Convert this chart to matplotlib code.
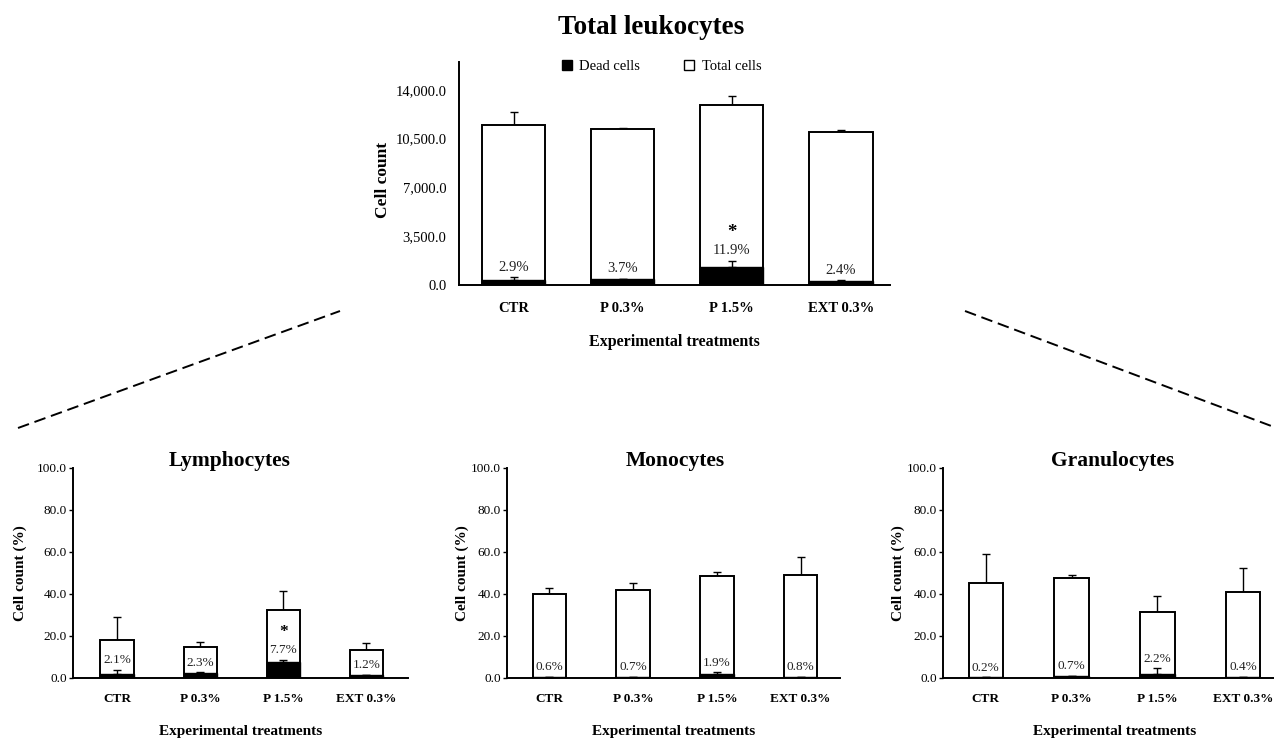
import matplotlib
matplotlib.use('Agg')
import matplotlib.pyplot as plt
import matplotlib.ticker as plticker
from matplotlib.lines import Line2D
from matplotlib.patches import Patch

plt.rcParams['font.family'] = ['Liberation Serif', 'DejaVu Serif']

treatments = ['CTR', 'P 0.3%', 'P 1.5%', 'EXT 0.3%']

# Total leukocytes (cell count)
leuk_total = [11480, 11200, 12920, 10980]
leuk_total_err = [930, 80, 650, 150]
leuk_dead = [350, 410, 1300, 300]
leuk_dead_err = [220, 40, 430, 30]
leuk_pct = ['2.9%', '3.7%', '11.9%', '2.4%']
leuk_sig = [False, False, True, False]

# Lymphocytes (%)
lymph_total = [18.0, 14.4, 32.0, 13.0]
lymph_total_err = [10.8, 2.5, 9.3, 3.4]
lymph_dead = [1.8, 2.1, 7.5, 1.0]
lymph_dead_err = [2.0, 0.3, 1.0, 0.4]
lymph_pct = ['2.1%', '2.3%', '7.7%', '1.2%']
lymph_sig = [False, False, True, False]

# Monocytes (%)
mono_total = [39.8, 41.8, 48.6, 49.0]
mono_total_err = [2.9, 3.4, 1.7, 8.5]
mono_dead = [0.3, 0.4, 1.6, 0.4]
mono_dead_err = [0.0, 0.0, 0.8, 0.0]
mono_pct = ['0.6%', '0.7%', '1.9%', '0.8%']
mono_sig = [False, False, False, False]

# Granulocytes (%)
gran_total = [45.2, 47.6, 31.5, 40.6]
gran_total_err = [13.7, 1.4, 7.5, 11.7]
gran_dead = [0.2, 0.5, 1.9, 0.3]
gran_dead_err = [0.0, 0.3, 2.6, 0.0]
gran_pct = ['0.2%', '0.7%', '2.2%', '0.4%']
gran_sig = [False, False, False, False]

W, H = 1274, 740
fig = plt.figure(figsize=(12.74, 7.40), dpi=100)


def px_axes(left, right, bottom, top):
    return fig.add_axes([left / W, 1 - bottom / H, (right - left) / W, (bottom - top) / H])


def draw_panel(ax, total, total_err, dead, dead_err, pct, sig, width, fs_pct, fs_tick, tick_pad):
    x = list(range(len(treatments)))
    zeros = [0] * len(x)
    ax.bar(x, total, width, color='white', edgecolor='black', linewidth=1.4, zorder=2)
    ax.errorbar(x, total, yerr=[zeros, total_err], fmt='none', ecolor='black',
                elinewidth=1, capsize=3, capthick=1, zorder=1)
    ax.bar(x, dead, width, color='black', edgecolor='black', linewidth=1.0, zorder=3)
    ax.errorbar(x, dead, yerr=[zeros, dead_err], fmt='none', ecolor='black',
                elinewidth=1, capsize=3, capthick=1, zorder=4)
    for i in x:
        ax.annotate(pct[i], (i, dead[i] + dead_err[i]), xytext=(0, 2.5), textcoords='offset points',
                    ha='center', va='bottom', fontsize=fs_pct, color='#222222', zorder=5)
        if sig[i]:
            ax.annotate('*', (i, dead[i] + dead_err[i]), xytext=(0, 14), textcoords='offset points',
                        ha='center', va='bottom', fontsize=fs_pct + 3, fontweight='bold', zorder=5)
    ax.set_xticks(x, labels=treatments, fontweight='bold', fontsize=fs_tick)
    ax.tick_params(axis='x', length=0, pad=tick_pad)
    ax.spines['top'].set_visible(False)
    ax.spines['right'].set_visible(False)
    ax.spines['left'].set_linewidth(1.4)
    ax.spines['bottom'].set_linewidth(1.4)
    ax.yaxis.set_major_formatter(plticker.FuncFormatter(lambda v, p: f'{v:,.1f}'))


# top panel
ax0 = px_axes(459, 890, 285, 62)
draw_panel(ax0, leuk_total, leuk_total_err, leuk_dead, leuk_dead_err, leuk_pct, leuk_sig,
           0.58, 10.5, 10.5, 12)
ax0.set_xlim(-0.5, 3.45)
ax0.set_ylim(0, 16000)
ax0.set_yticks([0, 3500, 7000, 10500, 14000])
ax0.tick_params(axis='y', length=0, pad=9, labelsize=10.5)
ax0.set_ylabel('Cell count', fontweight='bold', fontsize=12.5)
ax0.yaxis.set_label_coords(-0.158, 0.47)
ax0.set_xlabel('Experimental treatments', fontweight='bold', fontsize=11.5)
ax0.xaxis.set_label_coords(0.5, -0.22)
handles = [Patch(facecolor='black', edgecolor='black'),
           Patch(facecolor='white', edgecolor='black')]
ax0.legend(handles, ['Dead cells', 'Total cells'], ncol=2, frameon=False,
           loc='center', bbox_to_anchor=(0.47, 0.98), fontsize=10.5,
           handlelength=0.7, handleheight=0.7, handletextpad=0.5, columnspacing=3.0)
fig.text(651 / W, 1 - 28 / H, 'Total leukocytes', ha='center', va='center',
         fontsize=19.5, fontweight='bold')

# bottom panels
panels = [
    ('Lymphocytes', (73, 408), (-0.53, 3.5), 230, -0.136,
     lymph_total, lymph_total_err, lymph_dead, lymph_dead_err, lymph_pct, lymph_sig),
    ('Monocytes', (507, 840), (-0.505, 3.47), 675, -0.113,
     mono_total, mono_total_err, mono_dead, mono_dead_err, mono_pct, mono_sig),
    ('Granulocytes', (943, 1286), (-0.5, 3.5), 1113, -0.112,
     gran_total, gran_total_err, gran_dead, gran_dead_err, gran_pct, gran_sig),
]
for title, (xl, xr), xlim, tx, ylx, tot, tot_e, dd, dd_e, pc, sg in panels:
    ax = px_axes(xl, xr, 677.5, 468)
    draw_panel(ax, tot, tot_e, dd, dd_e, pc, sg, 0.4, 9.5, 9.5, 11)
    ax.set_xlim(*xlim)
    ax.set_ylim(0, 100)
    ax.set_yticks([0, 20, 40, 60, 80, 100])
    ax.tick_params(axis='y', length=3, width=1, pad=1.5, labelsize=9.5)
    ax.set_ylabel('Cell count (%)', fontweight='bold', fontsize=11)
    ax.yaxis.set_label_coords(ylx, 0.5)
    ax.set_xlabel('Experimental treatments', fontweight='bold', fontsize=11)
    ax.xaxis.set_label_coords(0.5, -0.227)
    fig.text(tx / W, 1 - 461 / H, title, ha='center', va='center',
             fontsize=15.5, fontweight='bold')

# dashed connector lines
for (x1, y1), (x2, y2) in [((18, 428), (340, 311)), ((965, 311), (1274, 427))]:
    fig.add_artist(Line2D([x1 / W, x2 / W], [1 - y1 / H, 1 - y2 / H], transform=fig.transFigure,
                          color='black', linewidth=1.4, linestyle=(0, (6, 3))))

fig.savefig('out.png', dpi=100)
